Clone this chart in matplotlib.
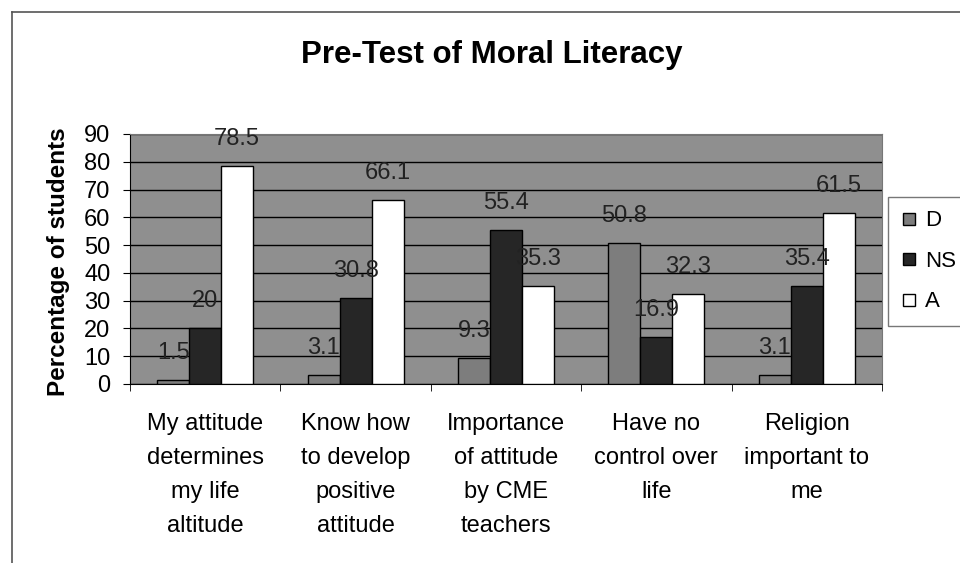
import numpy as np
import matplotlib.pyplot as plt
from matplotlib.lines import Line2D

plt.rcParams['font.family'] = ['Liberation Sans', 'DejaVu Sans']

categories = ["My attitude\ndetermines\nmy life\naltitude",
              "Know how\nto develop\npositive\nattitude",
              "Importance\nof attitude\nby CME\nteachers",
              "Have no\ncontrol over\nlife",
              "Religion\nimportant to\nme"]
series_names = ["D", "NS", "A"]
d_vals = [1.5, 3.1, 9.3, 50.8, 3.1]
ns_vals = [20, 30.8, 55.4, 16.9, 35.4]
a_vals = [78.5, 66.1, 35.3, 32.3, 61.5]
yticks = [0, 10, 20, 30, 40, 50, 60, 70, 80, 90]

colors = ["#7d7d7d", "#262626", "#ffffff"]

fig = plt.figure(figsize=(9.6, 5.63), dpi=100)
ax = fig.add_axes([0.1354, 0.318, 0.7833, 0.444])
ax.set_facecolor("#8f8f8f")

x = np.arange(len(categories))
w = 0.213
for i, (name, vals) in enumerate(zip(series_names, [d_vals, ns_vals, a_vals])):
    pos = x + (i - 1) * w
    ax.bar(pos, vals, width=w, color=colors[i], edgecolor="black", linewidth=1,
           label=name, zorder=3)
    for px, v in zip(pos, vals):
        ax.annotate(f"{v:g}", (px, v), xytext=(0, 19.5), textcoords="offset points",
                    ha="center", va="center", fontsize=17, color="#222222", zorder=4)

ax.set_xlim(-0.5, len(categories) - 0.5)
ax.set_ylim(0, 90)
ax.set_yticks(yticks)
ax.yaxis.grid(True, color="black", linewidth=1, zorder=1)
ax.tick_params(axis="y", labelsize=17, length=5, direction="out", pad=9)
ax.set_xticks(x)
ax.set_xticklabels(categories, fontsize=17, linespacing=1.7)
ax.set_xticks(np.arange(-0.5, len(categories)), minor=True)
ax.tick_params(axis="x", which="major", length=0, pad=21)
ax.tick_params(axis="x", which="minor", length=5, direction="out")
for side in ["top", "right"]:
    ax.spines[side].set_color("#777777")
ax.spines["left"].set_color("black")
ax.spines["bottom"].set_color("black")
ax.set_ylabel("Percentage of students", fontsize=17.5, fontweight="bold")
ax.yaxis.set_label_coords(-0.08, 0.488)

fig.text(0.512, 1 - 55 / 563, "Pre-Test of Moral Literacy", ha="center", va="center",
         fontsize=22.5, fontweight="bold")

handles = [Line2D([], [], marker="s", linestyle="none", markersize=9,
                  markerfacecolor=c, markeredgecolor="black") for c in colors]
leg = fig.legend(handles, series_names, loc="upper left",
                 bbox_to_anchor=(888 / 960, 1 - 197 / 563), fontsize=16,
                 frameon=True, fancybox=False, edgecolor="#555555",
                 handlelength=0.7, handletextpad=0.35, labelspacing=0.88,
                 borderpad=0.6, borderaxespad=0)

# outer chart border
fig.add_artist(Line2D([12 / 960, 12 / 960], [0, 1 - 12 / 563], color="#555555", lw=1.2))
fig.add_artist(Line2D([12 / 960, 1], [1 - 12 / 563, 1 - 12 / 563], color="#555555", lw=1.2))

fig.savefig("out.png", dpi=100)
